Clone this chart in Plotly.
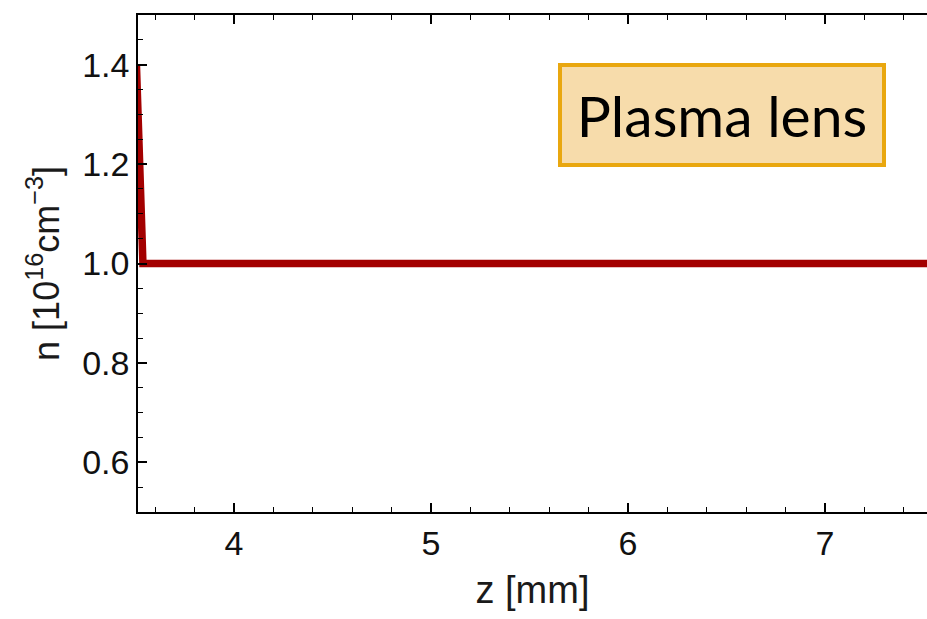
import plotly.graph_objects as go

# Density profile along the beam axis
z_mm = [3.505, 3.538, 7.6]
n_density = [1.40, 1.0, 1.0]

x_tick_vals = [4, 5, 6, 7]
y_tick_vals = [0.6, 0.8, 1.0, 1.2, 1.4]

fig = go.Figure()
fig.add_trace(go.Scatter(
    x=z_mm, y=n_density, mode="lines",
    line=dict(color="#a30000", width=7.5),
    showlegend=False,
))

tick_font = dict(family="Liberation Sans, Arial, sans-serif", size=34, color="#111111")
title_font = dict(family="Liberation Sans, Arial, sans-serif", size=38, color="#1a1a1a")

fig.update_xaxes(
    range=[3.513, 7.518],
    tickvals=x_tick_vals,
    ticks="inside", ticklen=9, tickwidth=1.5, tickcolor="black",
    minor=dict(dtick=0.2, ticks="inside", ticklen=5, tickwidth=1.2, tickcolor="black", showgrid=False),
    showline=True, linecolor="black", linewidth=1.5, mirror="allticks",
    showgrid=False, zeroline=False,
    tickfont=tick_font,
    title=dict(text="z [mm]", font=title_font, standoff=16),
)
fig.update_yaxes(
    range=[0.5, 1.5],
    tickvals=y_tick_vals, tickformat=".1f",
    ticks="inside", ticklen=9, tickwidth=1.5, tickcolor="black",
    minor=dict(dtick=0.05, ticks="inside", ticklen=5, tickwidth=1.2, tickcolor="black", showgrid=False),
    showline=True, linecolor="black", linewidth=1.5, mirror=False,
    showgrid=False, zeroline=False,
    tickfont=tick_font,
    title=dict(text="n [10<sup>16</sup>cm<sup>−3</sup>]", font=dict(family="Liberation Sans, Arial, sans-serif", size=36, color="#1a1a1a"), standoff=12),
)

fig.add_annotation(
    xref="paper", yref="paper", x=0.7408, y=0.7978,
    xanchor="center", yanchor="middle",
    text="Plasma lens", showarrow=False,
    font=dict(family="Lato, sans-serif", size=57, color="black"),
    bgcolor="#f7dcab", bordercolor="#e9a70f", borderwidth=4,
    width=318, height=94, align="center",
)

fig.update_layout(
    width=927, height=619,
    margin=dict(l=138, r=0, t=15, b=107),
    plot_bgcolor="white", paper_bgcolor="white",
)

fig.write_html("out.html")
